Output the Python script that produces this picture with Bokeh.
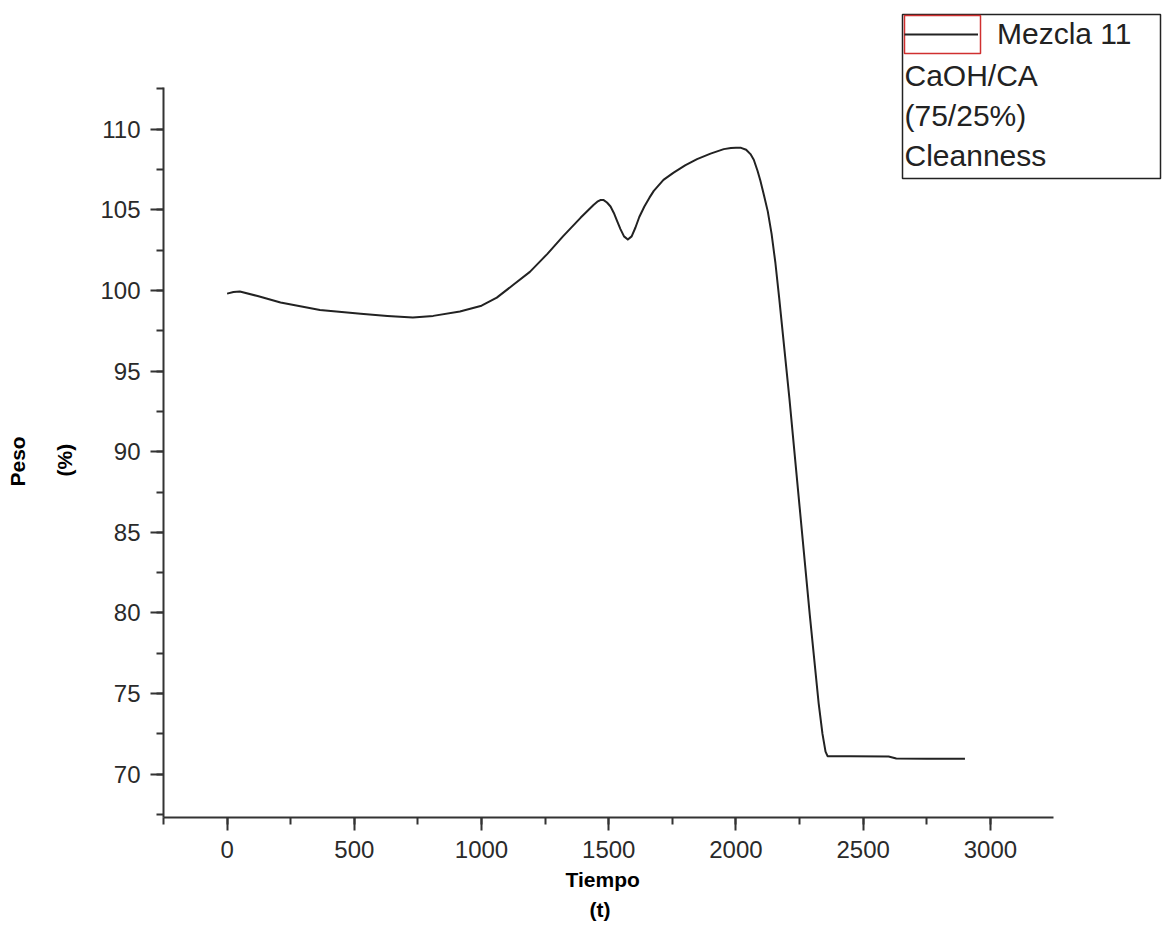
from bokeh.plotting import figure
from bokeh.models import (Range1d, SingleIntervalTicker, Legend, LegendItem,
                          Label, BoxAnnotation, ColumnDataSource, Title)
from bokeh.embed import file_html
from bokeh.resources import INLINE

# ---- data ----
tiempo = [0, 25, 50, 120, 210, 365, 525, 630, 730, 810, 915, 1000, 1060, 1125,
          1190, 1258, 1320, 1389, 1440, 1455, 1467, 1480, 1493, 1507, 1520,
          1533, 1546, 1560, 1575, 1590, 1605, 1620, 1640, 1660, 1677, 1715,
          1755, 1800, 1847, 1900, 1952, 1980, 2000, 2020, 2040, 2057, 2070,
          2085, 2096, 2110, 2125, 2140, 2155, 2170, 2210, 2250, 2290, 2325,
          2340, 2352, 2360, 2450, 2600, 2630, 2750, 2900]
peso = [99.80, 99.90, 99.93, 99.65, 99.25, 98.78, 98.56, 98.42, 98.32, 98.42,
        98.69, 99.05, 99.55, 100.35, 101.15, 102.25, 103.35, 104.5, 105.3,
        105.5, 105.6, 105.6, 105.45, 105.2, 104.8, 104.3, 103.8, 103.35,
        103.15, 103.35, 103.9, 104.55, 105.2, 105.75, 106.17, 106.85, 107.3,
        107.75, 108.14, 108.48, 108.76, 108.83, 108.85, 108.84, 108.72, 108.45,
        108.1, 107.4, 106.8, 105.9, 104.9, 103.5, 101.7, 99.5, 93.3, 86.6,
        79.9, 74.4, 72.5, 71.4, 71.12, 71.12, 71.1, 70.98, 70.97, 70.97]

legend_label = "Mezcla 11"
legend_lines = ["CaOH/CA", "(75/25%)", "Cleanness"]
x_title_lines = ["Tiempo", "(t)"]
y_title_lines = ["Peso", "(%)"]

W, H = 1163, 934
FL, FB = 163, 817            # frame left / bottom edges in canvas px
AX_TOP, AX_RIGHT = 87, 1053  # where the axis lines end
x_lo, x_hi = -250, 3248      # axis extents
y_lo, y_hi = 67.32, 112.58

# extend the frame to the canvas top/right so the legend is not clipped
xpp = (AX_RIGHT - FL) / (x_hi - x_lo)
ypp = (FB - AX_TOP) / (y_hi - y_lo)
x_end = x_hi + (W - AX_RIGHT) / xpp
y_end = y_hi + AX_TOP / ypp

p = figure(width=W, height=H, output_backend="svg", toolbar_location=None,
           x_range=Range1d(x_lo, x_end), y_range=Range1d(y_lo, y_end),
           min_border_left=FL, min_border_top=0,
           min_border_right=0, min_border_bottom=H - FB)
p.outline_line_color = None
p.xgrid.grid_line_color = None
p.ygrid.grid_line_color = None
p.background_fill_color = "white"
p.border_fill_color = "white"

src = ColumnDataSource(dict(t=tiempo, w=peso))
r = p.line("t", "w", source=src, line_color="#222222", line_width=2,
           line_join="round")

p.xaxis.ticker = SingleIntervalTicker(interval=500, num_minor_ticks=2)
p.yaxis.ticker = SingleIntervalTicker(interval=5, num_minor_ticks=2)
p.xaxis.bounds = (x_lo, x_hi)
p.yaxis.bounds = (y_lo, y_hi)
for ax in (p.xaxis, p.yaxis):
    ax.axis_line_width = 2
    ax.axis_line_color = "#333333"
    ax.major_tick_line_color = "#333333"
    ax.minor_tick_line_color = "#333333"
    ax.major_tick_line_width = 2
    ax.minor_tick_line_width = 2
    ax.major_tick_in = 0
    ax.major_tick_out = 13
    ax.minor_tick_in = 0
    ax.minor_tick_out = 7
    ax.major_label_text_font = "Liberation Sans"
    ax.major_label_text_font_size = "24px"
    ax.major_label_text_color = "#2a2a2a"
    ax.major_label_standoff = 10

# axis titles as panel titles placed under / beside the drawn axes
def axis_title(txt, offset, standoff):
    return Title(text=txt, align="left", offset=offset, standoff=standoff,
                 text_font="Liberation Sans", text_font_size="21px",
                 text_font_style="bold", text_color="black")

p.add_layout(axis_title(x_title_lines[0], 402, 10), "below")
p.add_layout(axis_title(x_title_lines[1], 426, 0), "below")
p.add_layout(axis_title(y_title_lines[1], 341, 44), "left")
p.add_layout(axis_title(y_title_lines[0], 331, 0), "left")

def sx(x):
    return x - FL

def sy(y):
    return FB - y

# legend frame and red glyph box
p.add_layout(BoxAnnotation(left=sx(902), right=sx(1160), top=sy(14), bottom=sy(178),
                           left_units="screen", right_units="screen",
                           top_units="screen", bottom_units="screen",
                           fill_alpha=0, line_color="#222222", line_alpha=1.0,
                           line_width=1.5))
p.add_layout(BoxAnnotation(left=sx(904), right=sx(980), top=sy(15), bottom=sy(53),
                           left_units="screen", right_units="screen",
                           top_units="screen", bottom_units="screen",
                           fill_alpha=0, line_color="#d03030", line_alpha=1.0,
                           line_width=1.5))

leg = Legend(items=[LegendItem(label=legend_label, renderers=[r])],
             location=(sx(904), sy(53)), padding=0, margin=0,
             glyph_width=74, glyph_height=38, label_height=38,
             label_standoff=19, label_text_font="Liberation Sans",
             label_text_font_size="30px", label_text_color="#222222",
             border_line_color=None, background_fill_alpha=0)
p.add_layout(leg)

for i, txt in enumerate(legend_lines):
    p.add_layout(Label(x=sx(904), y=sy(75 + 40 * i), x_units="screen",
                       y_units="screen", text=txt, text_font="Liberation Sans",
                       text_font_size="30px", text_color="#222222",
                       text_baseline="alphabetic", text_align="left"))

open("out.html", "w").write(file_html(p, INLINE))
